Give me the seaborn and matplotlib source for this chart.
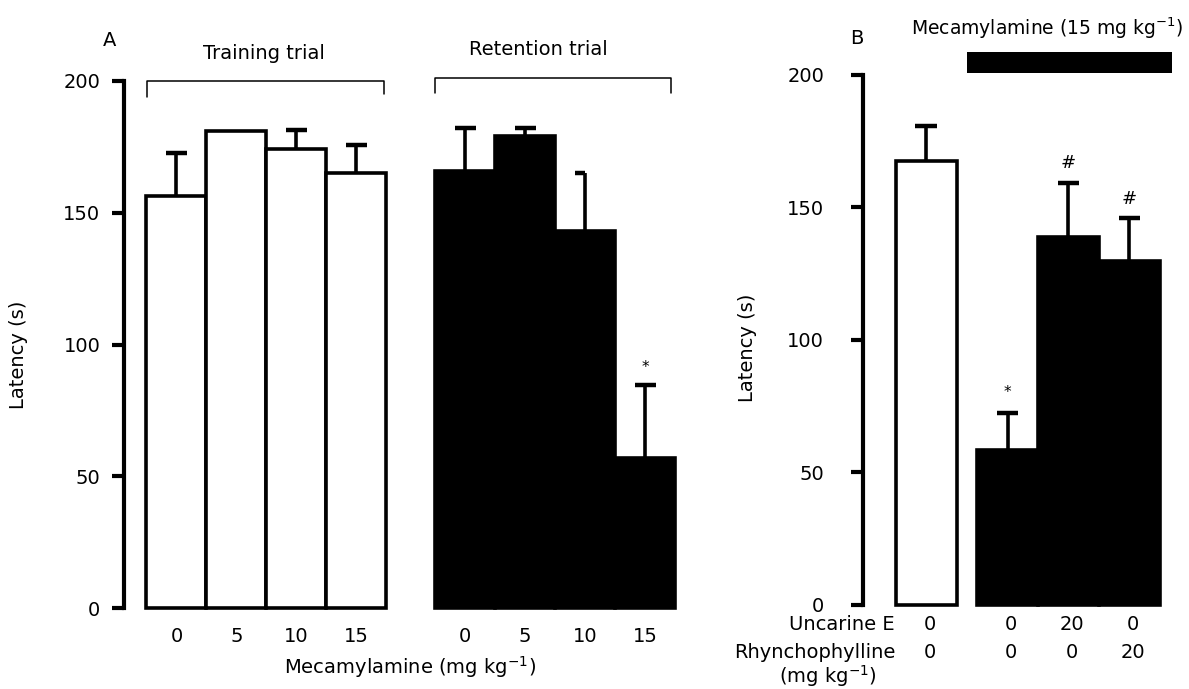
import numpy as np
import pandas as pd
import seaborn as sns
import matplotlib.pyplot as plt
from matplotlib.patches import Rectangle
from matplotlib.transforms import blended_transform_factory

# Panel A : mecamylamine dose-response (training / retention trial)
doses = ["0", "5", "10", "15"]
training_mean = [156.5, 181.0, 174.3, 165.2]
training_sem = [16.0, 0.0, 7.0, 10.6]
retention_mean = [166.0, 179.3, 143.2, 57.0]
retention_sem = [16.3, 3.0, 22.0, 27.7]
retention_signif = ["", "", "", "*"]

# Panel B : mecamylamine 15 mg/kg + uncarine E / rhynchophylline
b_uncarine = ["0", "0", "20", "0"]
b_rhyncho = ["0", "0", "0", "20"]
b_mean = [167.5, 58.5, 138.9, 129.8]
b_sem = [13.3, 14.0, 20.3, 16.0]
b_signif = ["", "*", "#", "#"]
b_group = ["control", "meca", "meca", "meca"]

W, H = 1189, 689
sns.set_theme(style="white")
plt.rcParams["font.family"] = ["DejaVu Sans"]
plt.rcParams["font.size"] = 14
plt.rcParams["text.color"] = "black"
plt.rcParams["axes.labelcolor"] = "black"
plt.rcParams["mathtext.default"] = "regular"

fig = plt.figure(figsize=(W / 100, H / 100), dpi=100)
fig.patch.set_facecolor("white")

# axes placed in pixel coordinates
def px_axes(x0, y_top, x1, y_bot):
    return fig.add_axes([x0 / W, 1 - y_bot / H, (x1 - x0) / W, (y_bot - y_top) / H])

axA = px_axes(124, 81, 690, 608)
axB = px_axes(863, 75, 1180, 604.5)

LW = 2.6

# ---- panel A
posA = np.r_[np.arange(4), 4.81 + np.arange(4)]
dfa = pd.DataFrame({
    "pos": posA,
    "latency": training_mean + retention_mean,
    "sem": training_sem + retention_sem,
    "trial": ["Training"] * 4 + ["Retention"] * 4,
})
sns.barplot(data=dfa, x="pos", y="latency", hue="trial", native_scale=True,
            palette={"Training": "white", "Retention": "black"}, width=1,
            dodge=False, edgecolor="black", linewidth=LW, errorbar=None,
            legend=False, ax=axA)

# ---- panel B
posB = np.r_[0, 1.336 + np.arange(3)]
dfb = pd.DataFrame({"pos": posB, "latency": b_mean, "sem": b_sem, "group": b_group})
sns.barplot(data=dfb, x="pos", y="latency", hue="group", native_scale=True,
            palette={"control": "white", "meca": "black"}, width=1,
            dodge=False, edgecolor="black", linewidth=LW, errorbar=None,
            legend=False, ax=axB)

cap = 0.175
for ax, df in ((axA, dfa), (axB, dfb)):
    for p in ax.patches:
        p.set_clip_on(False)
    tops = df["latency"] + df["sem"]
    ax.vlines(df["pos"], df["latency"], tops, color="black", lw=LW, zorder=3)
    right = np.full(len(df), cap)
    if ax is axA:
        right[6] = 0.0  # half cap on retention 10 mg/kg
    mask = df["sem"].values > 0
    ax.hlines(tops[mask], (df["pos"] - cap)[mask], (df["pos"] + right)[mask],
              color="black", lw=LW + 0.6, zorder=3)

for ax in (axA, axB):
    ax.set_ylim(0, 200)
    ax.set_yticks([0, 50, 100, 150, 200])
    sns.despine(ax=ax, bottom=True)
    ax.spines["left"].set_linewidth(3)
    ax.spines["left"].set_color("black")
    ax.set_xlabel("")
    ax.set_facecolor("none")

axA.set_xlim(-0.875, 8.56)
axB.set_xlim(-1.033, 4.164)

axA.tick_params(axis="y", direction="out", length=9, width=3, pad=8,
                labelsize=14, colors="black", left=True)
axB.tick_params(axis="y", direction="out", length=9, width=3, pad=19,
                labelsize=14, colors="black", left=True)

axA.set_xticks(posA)
axA.set_xticklabels(doses * 2)
axA.tick_params(axis="x", length=0, pad=14, labelsize=14, colors="black")
axB.set_xticks([])

axA.set_ylabel("Latency (s)", fontsize=14, color="black")
axA.yaxis.set_label_coords(-0.1696, 0.48)
axB.set_ylabel("Latency (s)", fontsize=14, color="black")
axB.yaxis.set_label_coords(-0.334, 0.484)

# significance marks
for x, m, s, t in zip(posA[4:], retention_mean, retention_sem, retention_signif):
    if t:
        axA.text(x, m + s + 6.5, t, ha="center", va="center", fontsize=11)
for x, m, s, t in zip(posB, b_mean, b_sem, b_signif):
    if t:
        axB.text(x, m + s + 7.5, t, ha="center", va="center",
                 fontsize=11 if t == "*" else 13, style="italic" if t == "#" else "normal")

# brackets over the trial groups
def bracket(ax, x0, x1, y, drop_l, drop_r):
    ax.plot([x0, x0, x1, x1], [y - drop_l, y, y, y - drop_r], color="black",
            lw=1.1, clip_on=False)

bracket(axA, -0.49, 3.46, 200.0, 6.1, 5.0)
bracket(axA, 4.31, 8.24, 201.1, 5.7, 5.7)
axA.text(1.46, 210.6, "Training trial", ha="center", va="center", fontsize=14)
axA.text(6.04, 211.8, "Retention trial", ha="center", va="center", fontsize=14)

# mecamylamine treatment bar in panel B
axB.add_patch(Rectangle((0.672, 200.8), 4.033 - 0.672, 7.9, facecolor="black",
                        edgecolor="none", clip_on=False))
axB.text(1.98, 217.8, "Mecamylamine (15 mg kg$^{-1}$)", ha="center", va="center",
         fontsize=13.5)

# row labels under panel B
trB = blended_transform_factory(axB.transData, fig.transFigure)
y1, y2 = 1 - 625 / H, 1 - 653 / H
fig.text(895 / W, y1, "Uncarine E", ha="right", va="center", fontsize=14)
fig.text(895 / W, y2, "Rhynchophylline", ha="right", va="center", fontsize=14)
fig.text(828 / W, 1 - 676 / H, "(mg kg$^{-1}$)", ha="center", va="center", fontsize=14)
for x, u, r in zip(posB, b_uncarine, b_rhyncho):
    axB.text(x + 0.06, y1, u, transform=trB, ha="center", va="center", fontsize=14)
    axB.text(x + 0.06, y2, r, transform=trB, ha="center", va="center", fontsize=14)

fig.text(410 / W, 1 - 667 / H, "Mecamylamine (mg kg$^{-1}$)", ha="center",
         va="center", fontsize=14)
fig.text(110 / W, 1 - 40 / H, "A", ha="center", va="center", fontsize=14)
fig.text(857 / W, 1 - 38 / H, "B", ha="center", va="center", fontsize=14)

fig.savefig("out.png", dpi=100, facecolor="white")
